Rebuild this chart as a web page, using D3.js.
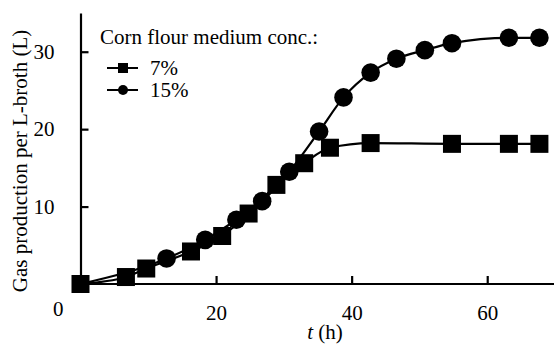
<!DOCTYPE html>
<html>
<head>
<meta charset="utf-8">
<script src="https://cdn.jsdelivr.net/npm/d3@7"></script>
<style>
  body { margin: 0; background: #fff; }
</style>
</head>
<body>
<svg width="554" height="345"></svg>
<script>
// data
var t7 = [0, 6.7, 9.7, 16.3, 20.9, 24.8, 28.9, 33.0, 36.8, 42.8, 54.8, 63.2, 67.7];
var gas7 = [0, 0.9, 2.0, 4.2, 6.2, 9.1, 12.8, 15.6, 17.6, 18.2, 18.1, 18.1, 18.1];
var t15 = [0, 12.7, 18.4, 23.0, 26.8, 30.8, 35.2, 38.8, 42.8, 46.6, 50.8, 54.8, 63.2, 67.7];
var gas15 = [0, 3.3, 5.7, 8.3, 10.7, 14.5, 19.7, 24.1, 27.3, 29.1, 30.2, 31.1, 31.8, 31.8];
var xTicks = [20, 40, 60];
var yTicks = [10, 20, 30];
var legendTitle = "Corn flour medium conc.:";
var seriesNames = ["7%", "15%"];

var FONT = "'Liberation Serif', Tinos, 'Times New Roman', 'DejaVu Serif', serif";

var svg = d3.select("svg");

var x = d3.scaleLinear().domain([0, 70]).range([80.5, 555]);
var y = d3.scaleLinear().domain([0, 35]).range([284, 13]);

var pts7 = t7.map((t, i) => ({t: t, v: gas7[i]}));
var pts15 = t15.map((t, i) => ({t: t, v: gas15[i]}));

var line = d3.line()
  .x(d => x(d.t))
  .y(d => y(d.v))
  .curve(d3.curveMonotoneX);

// axes
var xAxis = svg.append("g")
  .attr("transform", "translate(0," + y(0) + ")")
  .call(d3.axisBottom(x).tickValues(xTicks).tickSizeInner(-8).tickSizeOuter(0).tickPadding(21));
var yAxis = svg.append("g")
  .attr("transform", "translate(" + x(0) + ",0)")
  .call(d3.axisLeft(y).tickValues(yTicks).tickSizeInner(-8).tickSizeOuter(0).tickPadding(26));

[xAxis, yAxis].forEach(function(g) {
  g.attr("font-family", FONT).attr("font-size", 21);
  g.select(".domain").attr("stroke", "#000").attr("stroke-width", 2.2);
  g.selectAll(".tick line").attr("stroke", "#000").attr("stroke-width", 2.2);
  g.selectAll(".tick text").attr("fill", "#000");
});
xAxis.select(".domain").attr("d", "M" + (x(0) - 1) + ",0H554");

function label(sel) {
  return sel.append("text").attr("font-family", FONT).attr("font-size", 21).attr("fill", "#000");
}

// shared origin label
label(svg)
  .attr("x", x(0) - 17)
  .attr("y", y(0) + 32)
  .attr("text-anchor", "end")
  .text("0");

// axis titles
var xt = label(svg)
  .attr("x", 325)
  .attr("y", 339)
  .attr("text-anchor", "middle");
xt.append("tspan").attr("font-style", "italic").text("t");
xt.append("tspan").text(" (h)");

label(svg)
  .attr("transform", "translate(27,161) rotate(-90)")
  .attr("text-anchor", "middle")
  .text("Gas production per L-broth (L)");

// lines
svg.append("path").datum(pts7)
  .attr("d", line).attr("fill", "none").attr("stroke", "#000").attr("stroke-width", 2.2);
svg.append("path").datum(pts15)
  .attr("d", line).attr("fill", "none").attr("stroke", "#000").attr("stroke-width", 2.2);

// markers
svg.selectAll(".sq").data(pts7).enter().append("rect")
  .attr("class", "sq")
  .attr("x", d => x(d.t) - 9)
  .attr("y", d => y(d.v) - 9)
  .attr("width", 18).attr("height", 18)
  .attr("fill", "#000");
svg.selectAll(".ci").data(pts15.slice(1)).enter().append("circle")
  .attr("class", "ci")
  .attr("cx", d => x(d.t))
  .attr("cy", d => y(d.v))
  .attr("r", 9.3)
  .attr("fill", "#000");

// legend
var legend = svg.append("g");
label(legend)
  .attr("x", 100).attr("y", 44)
  .text(legendTitle);

seriesNames.forEach(function(name, i) {
  var ly = 68 + i * 22;
  legend.append("line")
    .attr("x1", 107).attr("x2", 138)
    .attr("y1", ly).attr("y2", ly)
    .attr("stroke", "#000").attr("stroke-width", 2);
  if (i === 0) {
    legend.append("rect")
      .attr("x", 118).attr("y", ly - 5)
      .attr("width", 10).attr("height", 10)
      .attr("fill", "#000");
  } else {
    legend.append("circle")
      .attr("cx", 123).attr("cy", ly).attr("r", 5)
      .attr("fill", "#000");
  }
  label(legend)
    .attr("x", 150).attr("y", ly + 7)
    .text(name);
});
</script>
</body>
</html>
